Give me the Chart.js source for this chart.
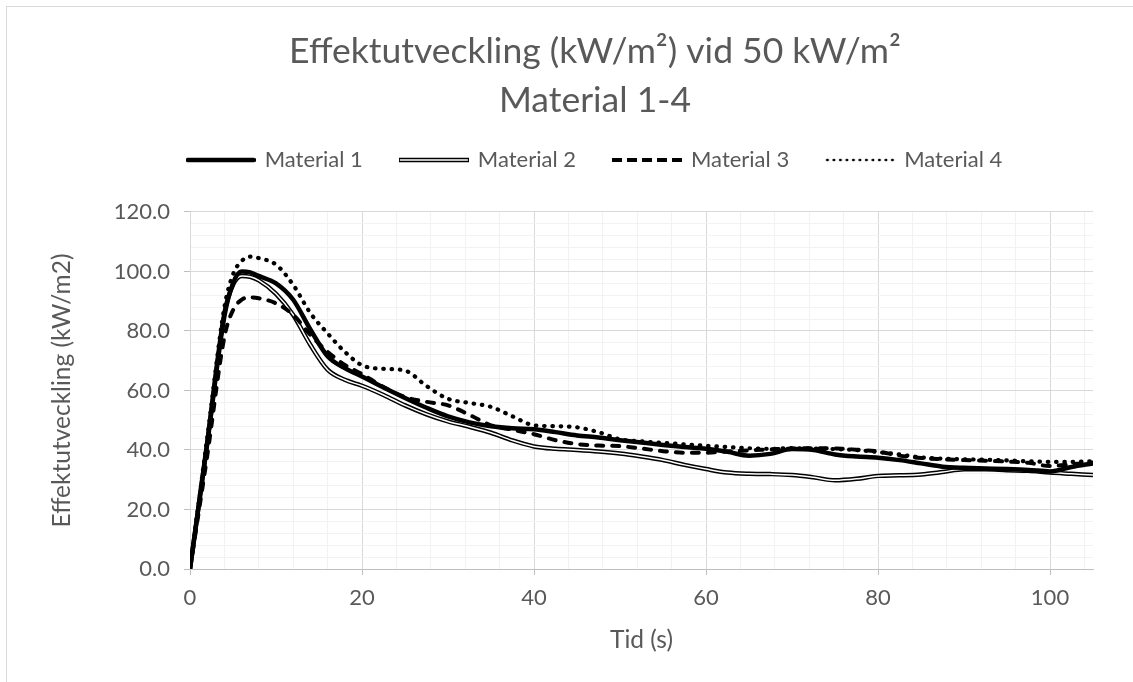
<!DOCTYPE html>
<html lang="sv">
<head>
<meta charset="utf-8">
<title>Effektutveckling Material 1-4</title>
<script src="https://cdn.jsdelivr.net/npm/chart.js@4.4.0/dist/chart.umd.min.js"></script>
<style>
  html, body { margin: 0; padding: 0; background: #fff; overflow: hidden; }
  #frame { position: absolute; left: 6px; top: 6px; width: 1300px; height: 720px; border: 1px solid #d9d9d9; }
  #chart { position: absolute; left: 7px; top: 7px; }
</style>
</head>
<body>
<div id="frame"></div>
<canvas id="chart" width="1140" height="675"></canvas>
<script>
// Tid (s) och effektutveckling (kW/m2) vid 50 kW/m2
const tid = [0, 2, 4, 5, 6, 7, 8, 10, 12, 14, 16, 18, 20, 22.5, 25, 27.5, 30, 32.5, 35, 37.5, 40,
  42.5, 45, 47.5, 50, 52.5, 55, 57.5, 60, 62.5, 65, 67.5, 70, 72.5, 75, 77.5, 80,
  82.5, 85, 87.5, 90, 92.5, 95, 97.5, 100, 102.5, 105];

const material1 = [0, 42, 85, 96, 100, 99.7, 98.5, 96, 90.5, 80.5, 71.5, 67.5, 64.7,
  61, 57.5, 54.2, 51.3, 49.3, 48, 47.3, 47,
  46, 44.9, 44.2, 43.3, 42.5, 41.7, 41, 40.4,
  39.4, 38.1, 38.7, 40.3, 40, 38.5, 37.8, 37.4,
  36.6, 35.5, 34.4, 34, 33.8, 33.6, 33.3, 32.8, 34.3, 35.5];

const material2 = [0, 42.5, 86, 95.5, 98.5, 98.2, 97, 92.5, 85.4, 75.3, 67, 63.6, 61.6,
  58.5, 55, 52, 49.6, 47.8, 45.8, 43.2, 41.2,
  40.4, 40, 39.5, 38.8, 37.8, 36.6, 35, 33.6,
  32.4, 32, 31.9, 31.6, 30.8, 29.8, 30.3, 31.3,
  31.5, 31.8, 32.6, 33.5, 33.5, 33.2, 33, 32.4, 32, 31.6];

const material3 = [0, 38, 78, 87, 90.5, 91.3, 91, 89.3, 85.4, 78.7, 73, 68.6, 65.5,
  61.2, 57.8, 56.2, 55, 51.8, 48.3, 46.8, 45.3,
  43.3, 42, 41.5, 41.3, 40.5, 39.6, 39.1, 39.1,
  39.5, 39.9, 40.2, 40.5, 40.6, 40.5, 40.1, 39.5,
  38.1, 37.3, 36.9, 36.6, 36.4, 36.1, 35.7, 34.6, 35.2, 35.8];

const material4 = [0, 44, 88, 99, 103.5, 105, 104.5, 102.3, 95.5, 86, 79.2, 73, 68.5,
  67.3, 66.7, 61.5, 57.2, 55.8, 54.5, 51.3, 48.3,
  48, 47.6, 46, 43.6, 42.9, 42.4, 41.9, 41.4,
  41, 40.6, 40.4, 40.6, 40.5, 40.3, 40, 39.3,
  38.5, 37.5, 37.1, 36.9, 36.7, 36.5, 36.2, 36, 36, 36.2];

const seriesNames = ['Material 1', 'Material 2', 'Material 3', 'Material 4'];
const chartTitle = ['Effektutveckling (kW/m²) vid 50 kW/m²', 'Material 1-4'];
const xTitle = 'Tid (s)';
const yTitle = 'Effektutveckling (kW/m2)';

const textColor = '#595959';
const fontFamily = 'Lato, "Open Sans", sans-serif';

Chart.defaults.font.family = fontFamily;
Chart.defaults.color = textColor;

const points = values => tid.map((t, i) => ({ x: t, y: values[i] }));
const isMajor = v => Math.abs(v % 20) < 1e-9;

// small canvases used as legend line samples
function sample(draw) {
  const c = document.createElement('canvas');
  c.width = 70;
  c.height = 12;
  const g = c.getContext('2d');
  g.strokeStyle = '#000';
  g.beginPath();
  draw(g);
  return c;
}

const legendSamples = [
  sample(g => { g.lineWidth = 4.5; g.lineCap = 'round'; g.moveTo(2, 6); g.lineTo(68, 6); g.stroke(); }),
  sample(g => {
    g.lineWidth = 4.5; g.moveTo(0, 6); g.lineTo(70, 6); g.stroke();
    g.beginPath(); g.strokeStyle = '#fff'; g.lineWidth = 1.5; g.moveTo(1, 6); g.lineTo(69, 6); g.stroke();
  }),
  sample(g => { g.lineWidth = 4; g.setLineDash([10, 5]); g.moveTo(0, 6); g.lineTo(70, 6); g.stroke(); }),
  sample(g => { g.lineWidth = 2.5; g.lineCap = 'round'; g.setLineDash([0.5, 6]); g.moveTo(2, 6); g.lineTo(69, 6); g.stroke(); })
];

const gridColor = c => (c.tick && isMajor(c.tick.value)) ? '#d9d9d9' : '#f2f2f2';
const tickMarkColor = c => (c.tick && isMajor(c.tick.value)) ? '#bfbfbf' : 'rgba(0,0,0,0)';

const lineDefaults = {
  pointRadius: 0,
  fill: false,
  tension: 0.4,
  cubicInterpolationMode: 'monotone',
  borderColor: '#000',
  backgroundColor: '#000'
};

const chart = new Chart(document.getElementById('chart'), {
  type: 'line',
  data: {
    datasets: [
      { ...lineDefaults, label: seriesNames[0], data: points(material1), borderWidth: 4.5, order: 1 },
      { ...lineDefaults, label: seriesNames[1], data: points(material2), borderWidth: 4.5, order: 4 },
      // white core of the double line
      { ...lineDefaults, label: seriesNames[1], data: points(material2), borderWidth: 1.5, borderColor: '#fff', order: 3 },
      { ...lineDefaults, label: seriesNames[2], data: points(material3), borderWidth: 4,
        borderDash: [7, 9], borderCapStyle: 'round', order: 2 },
      { ...lineDefaults, label: seriesNames[3], data: points(material4), borderWidth: 4.2,
        borderDash: [0.5, 7.8], borderCapStyle: 'round', order: 0 }
    ]
  },
  options: {
    responsive: false,
    animation: false,
    devicePixelRatio: 1,
    layout: { padding: { left: 36, right: 0, top: 0, bottom: 23 } },
    scales: {
      x: {
        type: 'linear',
        min: 0,
        max: 105,
        ticks: {
          stepSize: 4, includeBounds: false, autoSkip: false, maxRotation: 0,
          padding: 10, color: textColor, font: { size: 22 },
          callback: v => isMajor(v) ? v : ''
        },
        grid: { color: gridColor, tickColor: tickMarkColor, tickLength: 6 },
        border: { color: '#bfbfbf' },
        title: { display: true, text: xTitle, color: textColor, font: { size: 24.5 } },
        afterFit: s => { s.height = 90; }
      },
      y: {
        type: 'linear',
        min: 0,
        max: 120,
        ticks: {
          stepSize: 4, autoSkip: false, padding: 14, color: textColor, font: { size: 22 },
          callback: v => isMajor(v) ? v.toFixed(1) : ''
        },
        grid: { color: gridColor, tickColor: tickMarkColor, tickLength: 6 },
        border: { color: '#d9d9d9' },
        title: { display: true, text: yTitle, color: textColor, font: { size: 24.5 } },
        afterFit: s => { s.width = 147; }
      },
      // empty spacer axes that keep the plot area clear of the legend and right edge
      yPad: {
        type: 'linear', position: 'right', display: true,
        grid: { display: false }, ticks: { display: false }, border: { display: false },
        afterFit: s => { s.width = 54; }
      },
      xPad: {
        type: 'linear', position: 'top', display: true,
        grid: { display: false }, ticks: { display: false }, border: { display: false },
        afterFit: s => { s.height = 31; }
      }
    },
    plugins: {
      title: {
        display: true,
        text: chartTitle,
        color: textColor,
        font: { size: 35.5, weight: 'normal', lineHeight: 1.38 },
        padding: { top: 20, bottom: -14 }
      },
      legend: {
        position: 'top',
        labels: {
          usePointStyle: true,
          pointStyleWidth: 66,
          boxHeight: 12,
          padding: 38,
          color: textColor,
          font: { size: 22 },
          filter: item => item.datasetIndex !== 2,
          sort: (a, b) => a.datasetIndex - b.datasetIndex,
          generateLabels: ch => {
            const items = Chart.defaults.plugins.legend.labels.generateLabels(ch);
            return items.map(item => {
              const idx = seriesNames.indexOf(item.text);
              return { ...item, pointStyle: legendSamples[idx], fontColor: textColor };
            });
          }
        }
      },
      tooltip: { enabled: false }
    }
  }
});
</script>
</body>
</html>
